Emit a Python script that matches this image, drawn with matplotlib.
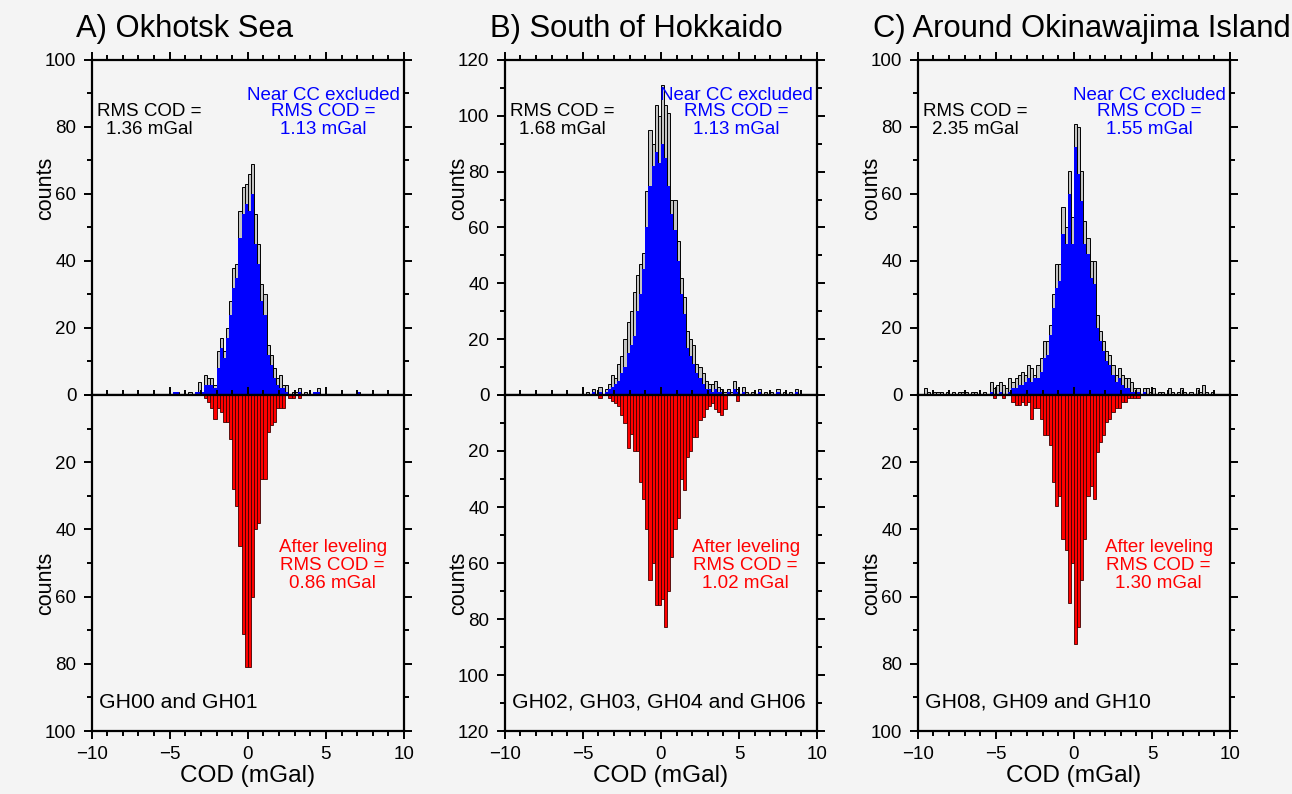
import matplotlib
matplotlib.use("Agg")
import matplotlib.pyplot as plt  # noqa: E402
from matplotlib.ticker import MultipleLocator, FuncFormatter  # noqa: E402

plt.rcParams["font.family"] = ["Liberation Sans", "DejaVu Sans"]

BIN_W = 0.2  # mGal

# --- A) Okhotsk Sea, first bin starts at -5.0 mGal
A_START = -5.0
A_TOTAL = [0, 1, 1, 0, 0,  0, 1, 0, 1, 4,  1, 6, 5, 5, 3,  13, 17, 13, 20, 28,
           38, 39, 55, 62, 63,  66, 69, 54, 45, 33,  30, 15, 12, 8, 5,  6, 3, 3, 0, 1,
           1, 2, 0, 1, 0,  0, 1, 2, 0, 0,  0, 0, 0, 0, 0,  0, 0, 0, 0, 0,  1]
A_EXCL = [0, 1, 1, 0, 0,  0, 0, 0, 1, 1,  1, 3, 3, 3, 2,  8, 14, 11, 17, 24,
          32, 35, 47, 54, 57,  55, 60, 45, 39, 28,  24, 12, 9, 5, 3,  2, 2, 1, 0, 0,
          0, 1, 0, 0, 0,  0, 1, 1, 0, 0,  0, 0, 0, 0, 0,  0, 0, 0, 0, 0,  1]
A_LEVEL = [0, 0, 0, 0, 0,  0, 0, 0, 0, 0,  0, 1, 2, 4, 7,  4, 5, 8, 8, 13,
           28, 33, 45, 71, 81,  81, 60, 40, 38, 25,  25, 11, 9, 8, 4,  4, 4, 0, 1, 1,
           0, 1, 0, 0, 0]

# --- B) South of Hokkaido, first bin starts at -5.0 mGal
B_START = -5.0
B_TOTAL = [0, 1, 0, 2, 0,  3, 0, 2, 4, 7,  6, 11, 14, 20, 26,  30, 37, 43, 47, 51,
           73, 95, 90, 104, 100,  111, 104, 101, 70, 70,  55, 42, 35, 23, 20,
           18, 11, 10, 8, 5,  4, 4, 5, 3, 2,  1, 2, 1, 5, 2,  0, 3, 1, 0, 1,
           0, 2, 0, 1, 0,  1, 0, 2, 0, 1,  0, 1, 0, 2, 0]
B_EXCL = [0, 0, 0, 1, 0,  1, 0, 1, 2, 3,  4, 5, 8, 10, 15,  18, 21, 30, 36, 45,
          60, 75, 82, 87, 83,  90, 85, 75, 65, 59,  48, 36, 29, 17, 14,
          11, 8, 6, 4, 2,  2, 1, 2, 1, 1,  0, 1, 0, 2, 1,  0, 1, 0, 0, 0,
          0, 1, 0, 0, 0,  0, 0, 1, 0, 0,  0, 0, 0, 1, 0]
B_LEVEL = [0, 0, 0, 0, 0,  1, 0, 0, 1, 2,  3, 4, 7, 10, 19,  14, 20, 20, 31, 37,
           48, 66, 60, 75, 75,  73, 83, 70, 58, 48,  44, 30, 34, 22, 20,
           15, 15, 9, 8, 5,  4, 3, 5, 6, 7,  5, 0, 0, 0, 2]

# --- C) Around Okinawajima Island, first bin starts at -9.6 mGal
C_START = -9.6
C_TOTAL = [2, 1, 0,  1, 1, 1, 0, 1,  0, 1, 0, 1, 1,  1, 0, 1, 1, 0,  0, 1, 0, 4, 2,
           3, 4, 3, 2, 5,  4, 5, 6, 7, 6,  9, 8, 6, 9, 11,  16, 16, 21, 30, 39,
           39, 56, 50, 67, 53,  81, 80, 67, 52, 47,  40, 40, 24, 19, 16,
           13, 12, 9, 6, 8,  6, 5, 5, 4, 2,  2, 0, 2, 2, 1,  2, 0, 1, 1, 0,
           2, 1, 0, 1, 2,  1, 0, 1, 0, 2,  1, 3, 1, 0, 1]
C_EXCL = [0, 0, 0,  0, 0, 0, 0, 0,  0, 0, 0, 0, 0,  0, 0, 0, 0, 0,  0, 0, 0, 1, 0,
          0, 1, 0, 0, 1,  2, 2, 3, 3, 4,  5, 4, 5, 5, 7,  11, 12, 18, 26, 32,
          34, 48, 45, 60, 45,  74, 66, 58, 45, 42,  35, 33, 20, 16, 13,
          10, 9, 6, 4, 5,  3, 2, 2, 1, 1,  1, 0, 1, 0, 0]
C_LEVEL = [0, 0, 0,  0, 0, 0, 0, 0,  0, 0, 0, 0, 0,  0, 0, 0, 0, 0,  0, 0, 0, 0, 1,
           0, 0, 1, 0, 0,  2, 3, 3, 2, 3,  2, 7, 4, 4, 7,  12, 12, 15, 26, 33,
           30, 43, 46, 62, 50,  74, 69, 55, 43, 30,  27, 31, 17, 14, 12,
           8, 7, 5, 4, 4,  2, 2, 1, 1, 1,  1]

TITLES = ["A) Okhotsk Sea", "B) South of Hokkaido", "C) Around Okinawajima Island"]
YMAX = [100, 120, 100]
RMS_ALL = ["1.36", "1.68", "2.35"]
RMS_EXCL = ["1.13", "1.13", "1.55"]
RMS_LEVEL = ["0.86", "1.02", "1.30"]
CRUISES = ["GH00 and GH01", "GH02, GH03, GH04 and GH06", "GH08, GH09 and GH10"]

BG = "#f4f4f4"
W, H = 1292, 794
AX_LEFT = [91.6, 504.7, 917.7]
TITLE_X = [76, 490, 873]
AX_W = 312.4
Y_TOP, Y_MID, Y_BOT = 60, 395, 731


def fx(px):
    return px / W


def fy(py):
    return 1 - py / H


def bins(start, counts):
    return [start + i * BIN_W for i in range(len(counts))]


def style(ax):
    ax.set_xlim(-10, 10)
    ax.set_facecolor(BG)
    ax.xaxis.set_major_locator(MultipleLocator(5))
    ax.xaxis.set_minor_locator(MultipleLocator(1))
    ax.yaxis.set_major_locator(MultipleLocator(20))
    ax.yaxis.set_minor_locator(MultipleLocator(10))
    ax.tick_params(which="both", direction="out", top=True, right=True,
                   width=1.4, labelsize=13.5, pad=5)
    ax.tick_params(which="major", length=6)
    ax.tick_params(which="minor", length=3.5)
    for s in ax.spines.values():
        s.set_linewidth(1.6)


fig = plt.figure(figsize=(W / 100, H / 100), dpi=100, facecolor=BG)

data = [(A_START, A_TOTAL, A_EXCL, A_LEVEL),
        (B_START, B_TOTAL, B_EXCL, B_LEVEL),
        (C_START, C_TOTAL, C_EXCL, C_LEVEL)]

for i, (start, tot, exc, lev) in enumerate(data):
    left = AX_LEFT[i]
    ymax = YMAX[i]
    top = fig.add_axes([fx(left), fy(Y_MID), AX_W / W, (Y_MID - Y_TOP) / H])
    bot = fig.add_axes([fx(left), fy(Y_BOT), AX_W / W, (Y_BOT - Y_MID) / H])

    top.bar(bins(start, tot), tot, width=BIN_W, align="edge",
            color="#c4c4c4", edgecolor="black", linewidth=0.7)
    top.bar(bins(start, exc), exc, width=BIN_W, align="edge",
            color="#0000ff", edgecolor="none", linewidth=0)
    bot.bar(bins(start, lev), lev, width=BIN_W, align="edge",
            color="#ff0000", edgecolor="#400000", linewidth=0.6)

    style(top)
    style(bot)
    top.set_ylim(0, ymax)
    bot.set_ylim(ymax, 0)
    top.tick_params(labelbottom=False)
    bot.yaxis.set_major_formatter(FuncFormatter(lambda v, p: "" if v == 0 else f"{v:.0f}"))

    fig.text(fx(TITLE_X[i]), fy(37), TITLES[i], fontsize=22.3, va="baseline")
    for yc in (188, 583):
        fig.text(fx(left - 46), fy(yc), "counts", fontsize=15.5, rotation=90,
                 ha="center", va="center")
    fig.text(fx(left + AX_W / 2), fy(776), "COD (mGal)", fontsize=17.6,
             ha="center", va="center")

    for j, line in enumerate(["RMS COD =", f"{RMS_ALL[i]} mGal"]):
        fig.text(fx(left + 58), fy(112 + 17 * j), line, fontsize=13.5,
                 ha="center", va="center", color="black")
    for j, line in enumerate(["Near CC excluded", "RMS COD =", f"{RMS_EXCL[i]} mGal"]):
        fig.text(fx(left + 232), fy(95 + 17 * j), line, fontsize=13.5,
                 ha="center", va="center", color="#0000ff")
    for j, line in enumerate(["After leveling", "RMS COD =", f"{RMS_LEVEL[i]} mGal"]):
        fig.text(fx(left + 241), fy(548 + 17.5 * j), line, fontsize=13.5,
                 ha="center", va="center", color="#ff0000")
    fig.text(fx(left + 7), fy(702), CRUISES[i], fontsize=15.3,
             ha="left", va="center")

fig.savefig("out.png", dpi=100, facecolor=BG)
